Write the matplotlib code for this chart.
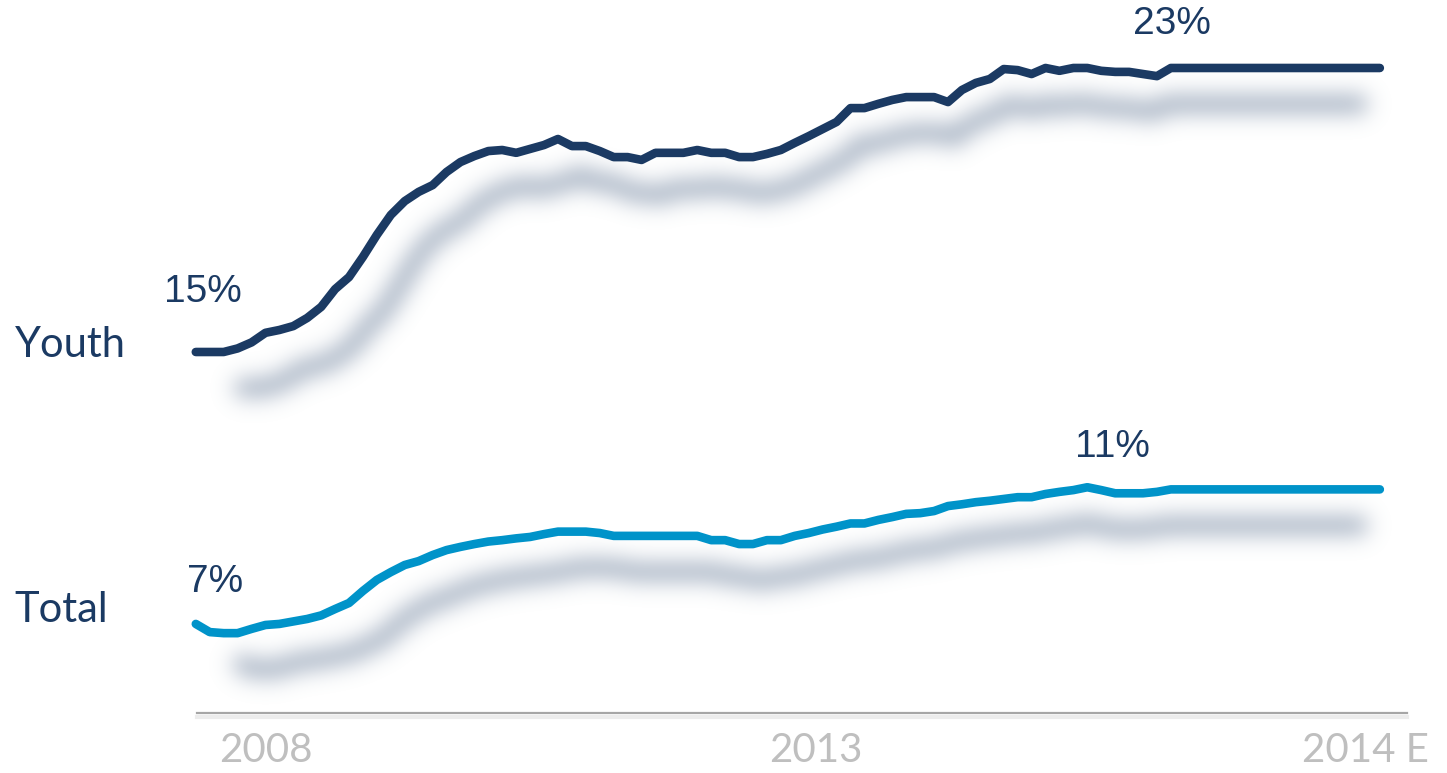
import numpy as np
import matplotlib
matplotlib.use("Agg")
from matplotlib import pyplot as plt
from matplotlib import transforms

# monthly unemployment rate, %
youth = [15.00, 15.00, 15.00, 15.10, 15.27, 15.54, 15.62, 15.73, 15.96, 16.27,
         16.77, 17.11, 17.68, 18.30, 18.86, 19.25, 19.51, 19.70, 20.07, 20.35,
         20.52, 20.66, 20.69, 20.61, 20.72, 20.83, 21.00, 20.80, 20.80, 20.66,
         20.49, 20.49, 20.41, 20.61, 20.61, 20.61, 20.69, 20.61, 20.61, 20.49,
         20.49, 20.58, 20.69, 20.89, 21.08, 21.28, 21.48, 21.87, 21.87, 21.99,
         22.10, 22.18, 22.18, 22.18, 22.04, 22.38, 22.58, 22.69, 22.97, 22.94,
         22.83, 23.00, 22.92, 23.00, 23.00, 22.92, 22.89, 22.89, 22.83, 22.77,
         23.00, 23.00, 23.00, 23.00, 23.00, 23.00, 23.00, 23.00, 23.00, 23.00,
         23.00, 23.00, 23.00, 23.00, 23.00, 23.00]
total = [7.34, 7.11, 7.08, 7.08, 7.20, 7.31, 7.34, 7.41, 7.48, 7.58,
         7.76, 7.93, 8.27, 8.58, 8.80, 9.00, 9.11, 9.28, 9.42, 9.51,
         9.59, 9.66, 9.70, 9.75, 9.79, 9.87, 9.94, 9.94, 9.94, 9.90,
         9.82, 9.82, 9.82, 9.82, 9.82, 9.82, 9.82, 9.70, 9.70, 9.59,
         9.59, 9.70, 9.70, 9.82, 9.90, 10.00, 10.08, 10.17, 10.17, 10.27,
         10.35, 10.44, 10.46, 10.52, 10.66, 10.71, 10.77, 10.81, 10.86, 10.91,
         10.91, 11.00, 11.06, 11.11, 11.19, 11.11, 11.02, 11.02, 11.02, 11.06,
         11.13, 11.13, 11.13, 11.13, 11.13, 11.13, 11.13, 11.13, 11.13, 11.13,
         11.13, 11.13, 11.13, 11.13, 11.13, 11.13]
tick_labels = ['2008', '2013', '2014 E']
tick_pos = [5, 44.5, 84]

NAVY = '#1b3a63'
CYAN = '#0093c9'
SHADOW = (0.50, 0.565, 0.66)
GREY_TXT = '#bfbfbf'

W, H, DPI = 14.47, 7.73, 100
AX_RECT = [197 / 1447, 60 / 773, 1210 / 1447, 713 / 773]
XLIM = (0.086, 86.95)
YLIM = (4.831, 24.915)

x = np.arange(len(youth))


def setup(fig):
    ax = fig.add_axes(AX_RECT)
    ax.set_xlim(*XLIM)
    ax.set_ylim(*YLIM)
    ax.patch.set_visible(False)
    return ax


def blur(img, sigma):
    r = int(3 * sigma)
    k = np.exp(-0.5 * (np.arange(-r, r + 1) / sigma) ** 2)
    k /= k.sum()
    img = np.apply_along_axis(lambda v: np.convolve(v, k, mode='same'), 0, img)
    img = np.apply_along_axis(lambda v: np.convolve(v, k, mode='same'), 1, img)
    return img


# --- render the drop shadows off-screen and blur them
sfig = plt.figure(figsize=(W, H), dpi=DPI)
sax = setup(sfig)
sax.axis('off')
sh_tr = transforms.offset_copy(sax.transData, sfig, x=12, y=-36, units='dots')
xs = x * 0.955 + 2.0
for series in (youth, total):
    sax.plot(xs, series, color='black', lw=12, solid_capstyle='butt',
             transform=sh_tr, clip_on=False)
sfig.canvas.draw()
buf = np.asarray(sfig.canvas.buffer_rgba()).astype(float)
mask = 1.0 - buf[..., 0] / 255.0
plt.close(sfig)
mask = blur(mask, 11.0)
shadow = np.zeros(mask.shape + (4,))
shadow[..., 0], shadow[..., 1], shadow[..., 2] = SHADOW
shadow[..., 3] = np.clip(mask * 0.78, 0, 1)

# --- main figure
fig = plt.figure(figsize=(W, H), dpi=DPI)
fig.figimage(shadow, 0, 0, origin='upper', zorder=-1)
ax = setup(fig)

for s in ['top', 'right', 'left']:
    ax.spines[s].set_visible(False)
ax.spines['bottom'].set_color('#a6a6a6')
ax.spines['bottom'].set_linewidth(1.6)
ax.set_yticks([])
ax.set_xticks(tick_pos)
ax.set_xticklabels(tick_labels, family=['Lato', 'DejaVu Sans'], fontsize=29,
                   color=GREY_TXT)
ax.tick_params(axis='x', length=0, pad=14)

# soft shadow of the axis line
ax.plot([0, 1], [0, 0], color='#ececec', lw=3, clip_on=False, zorder=1,
        transform=transforms.offset_copy(ax.transAxes, fig, x=0, y=-4, units='dots'))

ax.plot(x, youth, color=NAVY, lw=6.2, solid_capstyle='round',
        solid_joinstyle='round', clip_on=False, zorder=3)
ax.plot(x, total, color=CYAN, lw=6.2, solid_capstyle='round',
        solid_joinstyle='round', clip_on=False, zorder=3)

pct_font = dict(family=['Liberation Sans', 'DejaVu Sans'], fontsize=28,
                color=NAVY, ha='center', va='center',
                textcoords='offset pixels', annotation_clip=False)
ax.annotate('%.0f%%' % youth[0], xy=(0, youth[0]), xytext=(7, 60), **pct_font)
ax.annotate('%.0f%%' % youth[-1], xy=(70, youth[70]), xytext=(1, 44), **pct_font)
ax.annotate('%.0f%%' % total[0], xy=(0, total[0]), xytext=(19, 42), **pct_font)
ax.annotate('%.0f%%' % total[-1], xy=(66, total[66]), xytext=(-3, 46), **pct_font)

name_font = dict(family=['Lato', 'DejaVu Sans'], fontsize=30, color=NAVY,
                 ha='left', va='baseline', textcoords='offset pixels',
                 annotation_clip=False)
ax.annotate('Youth', xy=(0, youth[0]), xytext=(-181, -5), **name_font)
ax.annotate('Total', xy=(0, total[0]), xytext=(-181, 2), **name_font)

fig.savefig('out.png', dpi=DPI)
